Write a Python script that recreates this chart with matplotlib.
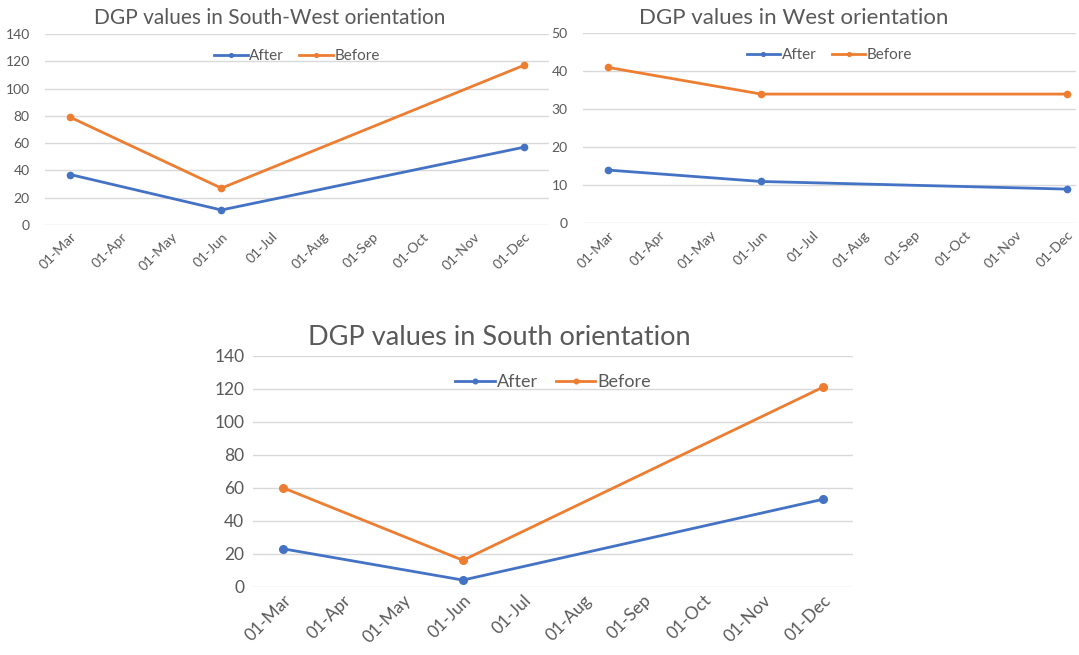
import numpy as np
import matplotlib.pyplot as plt

plt.rcParams['font.family'] = ['Lato', 'DejaVu Sans']

# month axis, first tick is March
month_labels = ['01-Mar', '01-Apr', '01-May', '01-Jun', '01-Jul',
                '01-Aug', '01-Sep', '01-Oct', '01-Nov', '01-Dec']
sample_dates = ['01-Mar', '01-Jun', '01-Dec']

sw_after = [37, 11, 57]
sw_before = [79, 27, 117]
w_after = [14, 11, 9]
w_before = [41, 34, 34]
s_after = [23, 4, 53]
s_before = [60, 16, 121]

BLUE = '#4472C4'
ORANGE = '#ED7D31'
GRID = '#D9D9D9'
TXT = '#595959'

ticks = np.arange(len(month_labels)) + 3
xs = [3 + month_labels.index(d) for d in sample_dates]


def dgp_panel(ax, after, before, ymax, ystep, xmax, fs, legend_fs, ypad, ms):
    ax.plot(xs, after, color=BLUE, lw=2.0, marker='o', ms=ms, label='After')
    ax.plot(xs, before, color=ORANGE, lw=2.0, marker='o', ms=ms, label='Before')
    ax.set_xlim(2.5, xmax)
    ax.set_ylim(0, ymax)
    ax.set_yticks(np.arange(0, ymax + 1, ystep))
    ax.set_xticks(ticks)
    ax.set_xticklabels(month_labels, rotation=45, ha='right',
                       rotation_mode='anchor', fontsize=fs, color=TXT)
    ax.tick_params(axis='y', labelsize=fs, labelcolor=TXT, length=0, pad=ypad)
    ax.tick_params(axis='x', length=0, pad=4)
    ax.grid(axis='y', color=GRID, lw=1.0)
    ax.set_axisbelow(True)
    for s in ax.spines.values():
        s.set_visible(False)
    ax.legend(loc='center', bbox_to_anchor=(0.5, 0.885), ncol=2, frameon=False,
              fontsize=legend_fs, labelcolor=TXT, handlelength=2.2,
              handletextpad=0.1, columnspacing=1.0, markerscale=0.6)


fig = plt.figure(figsize=(10.79, 6.55), dpi=100)

ax1 = fig.add_axes([0.0417, 0.6565, 0.4671, 0.2916])
dgp_panel(ax1, sw_after, sw_before, 140, 20, 12.5, 10, 11, 11, 4.5)
fig.text(0.250, 0.972, 'DGP values in South-West orientation', ha='center',
         va='center', fontsize=15, color=TXT)

ax2 = fig.add_axes([0.5403, 0.6591, 0.4569, 0.2901])
dgp_panel(ax2, w_after, w_before, 50, 10, 12.18, 10, 11, 11, 4.5)
fig.text(0.736, 0.972, 'DGP values in West orientation', ha='center',
         va='center', fontsize=16, color=TXT)

ax3 = fig.add_axes([0.2342, 0.1043, 0.5566, 0.3527])
dgp_panel(ax3, s_after, s_before, 140, 20, 12.5, 12.5, 13, 6, 5.5)
fig.text(0.463, 0.484, 'DGP values in South orientation', ha='center',
         va='center', fontsize=19.5, color=TXT)

fig.savefig('out.png', dpi=100)
